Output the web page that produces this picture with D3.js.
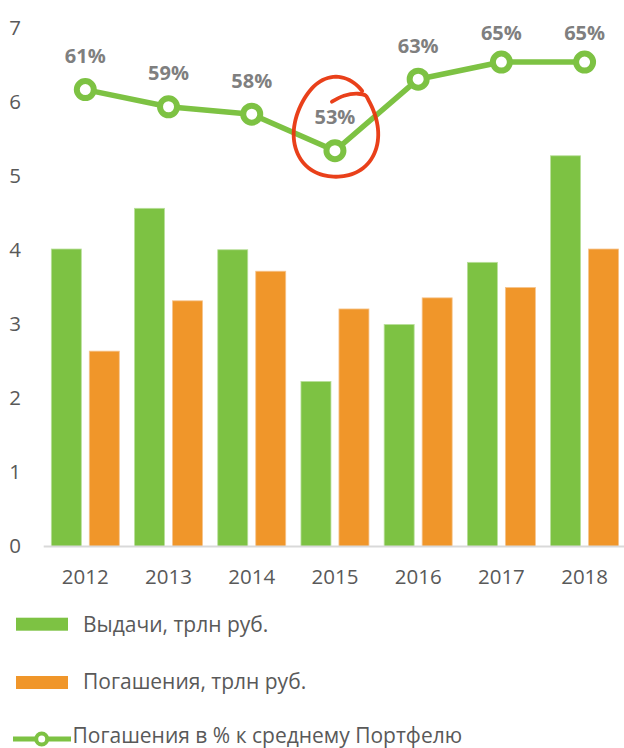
<!DOCTYPE html>
<html>
<head>
<meta charset="utf-8">
<script src="https://cdn.jsdelivr.net/npm/d3@7"></script>
<style>
  html, body { margin: 0; padding: 0; background: #fff; }
  svg { display: block; }
  text { font-family: "Open Sans", "Noto Sans", sans-serif; }
</style>
</head>
<body>
<div id="chart"></div>
<script>
// ---- data ----
const years = ["2012", "2013", "2014", "2015", "2016", "2017", "2018"];
const issued = [4.02, 4.57, 4.01, 2.23, 3.00, 3.84, 5.28];      // Выдачи, трлн руб.
const repaid = [2.64, 3.32, 3.72, 3.21, 3.36, 3.50, 4.02];      // Погашения, трлн руб.
const repaidPct = [61.3, 59.0, 58.0, 53.1, 62.7, 65.0, 65.0];   // Погашения в % к среднему Портфелю
const yTicks = [0, 1, 2, 3, 4, 5, 6, 7];
const seriesNames = ["Выдачи, трлн руб.", "Погашения, трлн руб.", "Погашения в % к среднему Портфелю"];
const highlightYear = "2015";

// ---- setup ----
const W = 624, H = 748;
const GREEN = "#7dc243", ORANGE = "#f0962a", AXIS_TEXT = "#595959", LABEL = "#7f7f7f";

const svg = d3.select("#chart").append("svg").attr("width", W).attr("height", H);

const y = d3.scaleLinear().domain([0, 7]).range([546.5, 28.5]);
const y2 = d3.scaleLinear().domain([0, 69.5]).range([y(0), y(7)]);
const x0 = d3.scaleBand().domain(years).range([43.7, 626.2]).paddingInner(0.183).paddingOuter(0.0915);
const x1 = d3.scaleBand().domain([0, 1]).range([0, x0.bandwidth()]).paddingInner(0.2105);
const xc = d => x0(d) + x0.bandwidth() / 2;

// y axis (labels only)
const yAxis = svg.append("g").attr("transform", "translate(24,0)")
  .call(d3.axisLeft(y).tickValues(yTicks).tickFormat(d3.format("d")).tickSize(0).tickPadding(3));
yAxis.select(".domain").remove();
yAxis.selectAll("text").attr("font-size", 20.5).attr("fill", AXIS_TEXT).attr("font-family", "Open Sans")
  .attr("dy", "0.3em");

// bars
const groups = svg.append("g").selectAll("g").data(years).join("g")
  .attr("transform", d => `translate(${x0(d)},0)`);
groups.append("rect")
  .attr("x", x1(0)).attr("width", x1.bandwidth())
  .attr("y", (d, i) => y(issued[i])).attr("height", (d, i) => y(0) - y(issued[i]))
  .attr("fill", GREEN).attr("stroke", "#b9df9a").attr("stroke-width", 0.8);
groups.append("rect")
  .attr("x", x1(1)).attr("width", x1.bandwidth())
  .attr("y", (d, i) => y(repaid[i])).attr("height", (d, i) => y(0) - y(repaid[i]))
  .attr("fill", ORANGE).attr("stroke", "#f6c48d").attr("stroke-width", 0.8);

// x axis
const xAxis = svg.append("g").attr("transform", `translate(0,${y(0)})`)
  .call(d3.axisBottom(x0).tickSize(0).tickPadding(23));
xAxis.select(".domain").remove();
xAxis.append("line").attr("x1", 43.7).attr("x2", W).attr("y1", 0).attr("y2", 0)
  .attr("stroke", "#d9d9d9").attr("stroke-width", 2);
xAxis.selectAll("text").attr("font-size", 20.5).attr("fill", AXIS_TEXT).attr("font-family", "Open Sans");

// line
const pts = years.map((d, i) => [xc(d), y2(repaidPct[i])]);
svg.append("path").attr("d", d3.line()(pts))
  .attr("fill", "none").attr("stroke", GREEN).attr("stroke-width", 5.5).attr("stroke-linejoin", "round");
svg.append("g").selectAll("circle").data(pts).join("circle")
  .attr("cx", d => d[0]).attr("cy", d => d[1]).attr("r", 8.5)
  .attr("fill", "#fff").attr("stroke", GREEN).attr("stroke-width", 6);

// percentage labels
svg.append("g").selectAll("text").data(years).join("text")
  .attr("x", d => xc(d))
  .attr("y", (d, i) => Math.max(y2(repaidPct[i]) - 34, 32))
  .attr("text-anchor", "middle").attr("dominant-baseline", "central")
  .attr("font-size", 20).attr("font-weight", "bold").attr("fill", LABEL)
  .text((d, i) => d3.format(".0f")(repaidPct[i]) + "%");

// hand-drawn red highlight around 2015 (spiral: starts inside at top, goes clockwise round)
const hi = years.indexOf(highlightYear);
const hcx = xc(highlightYear) + 1, hcy = y2(repaidPct[hi]) - 22, rx = 42, ry = 50;
const loop = [[hcx - 4, hcy - 27], [hcx + 8, hcy - 33], [hcx + 22, hcy - 35]];
d3.range(0.13, 1.13, 0.02).forEach(t => {
  const a = -Math.PI / 2 + 2 * Math.PI * t;
  const k = 1 + 0.04 * Math.sin(3 * a);
  loop.push([hcx + rx * k * Math.cos(a), hcy + ry * k * Math.sin(a)]);
});
svg.append("path").attr("d", d3.line().curve(d3.curveCatmullRom)(loop))
  .attr("fill", "none").attr("stroke", "#e8360e").attr("stroke-width", 3.8)
  .attr("stroke-linecap", "round").attr("stroke-linejoin", "round").attr("opacity", 0.95);

// legend
const leg = svg.append("g");
[[GREEN, 617.7, 631.5], [ORANGE, 676, 688.5]].forEach((c, i) => {
  leg.append("rect").attr("x", 16).attr("y", c[1]).attr("width", 52).attr("height", 13).attr("fill", c[0]);
  leg.append("text").attr("x", 83).attr("y", c[2]).attr("font-size", 21).attr("fill", AXIS_TEXT)
    .text(seriesNames[i]);
});
leg.append("line").attr("x1", 13).attr("x2", 71).attr("y1", 739).attr("y2", 739)
  .attr("stroke", GREEN).attr("stroke-width", 5);
leg.append("circle").attr("cx", 41.7).attr("cy", 739).attr("r", 5.5)
  .attr("fill", "#fff").attr("stroke", GREEN).attr("stroke-width", 4);
leg.append("text").attr("x", 72.5).attr("y", 742.5).attr("font-size", 21).attr("fill", AXIS_TEXT)
  .text(seriesNames[2]);
</script>
</body>
</html>
